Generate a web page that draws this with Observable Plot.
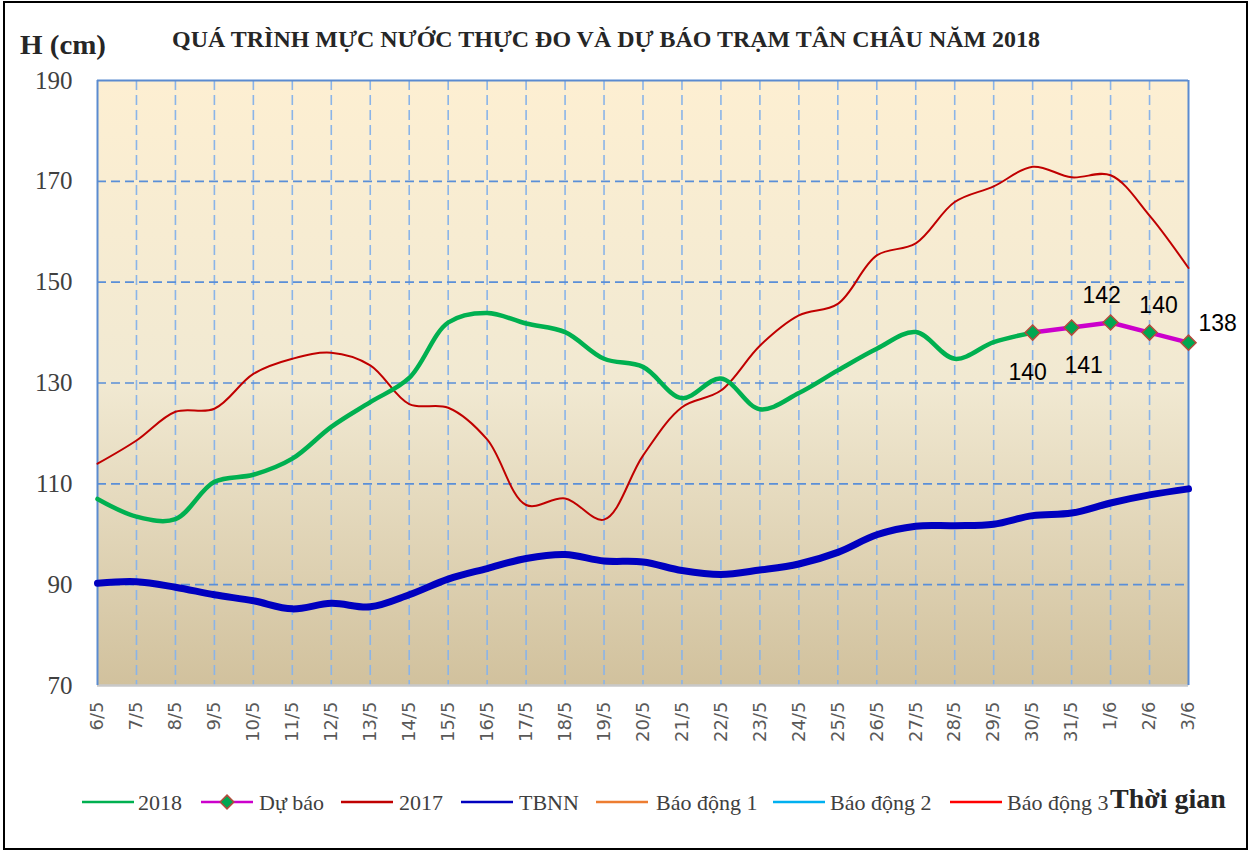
<!DOCTYPE html>
<html><head><meta charset="utf-8">
<script src="https://cdn.jsdelivr.net/npm/d3@7"></script>
<script src="https://cdn.jsdelivr.net/npm/@observablehq/plot@0.6"></script>
<style>
body{margin:0;background:#fff;}
#wrap{position:relative;width:1253px;height:852px;overflow:hidden;}
</style></head><body><div id="wrap"></div>
<script>
const dates = ["6/5","7/5","8/5","9/5","10/5","11/5","12/5","13/5","14/5","15/5","16/5","17/5","18/5","19/5","20/5","21/5","22/5","23/5","24/5","25/5","26/5","27/5","28/5","29/5","30/5","31/5","1/6","2/6","3/6"];
// measured 2018 (6/5 .. 30/5)
const h2018 = [107,103.5,103,110.4,111.8,115,121.3,126.2,131,142,143.9,141.8,140.1,134.8,133.2,127,130.9,124.8,128,132.5,136.8,140.1,134.8,138.1,140];
// forecast (30/5 .. 3/6)
const forecastDates = ["30/5","31/5","1/6","2/6","3/6"];
const forecast = [140,141,142,140,138];
const h2017 = [114,118.6,124.3,124.9,131.8,134.8,136,133.5,125.8,125.1,118.8,105.8,107.1,102.9,115.6,125.2,128.5,137.4,143.4,145.7,155.3,157.7,165.9,169,172.9,170.8,171.2,163.2,152.8];
const tbnn = [90.3,90.6,89.5,88,86.8,85.2,86.3,85.6,88,91.1,93.2,95.2,96,94.7,94.5,92.8,92,92.9,94.1,96.4,99.9,101.6,101.7,102,103.7,104.2,106.2,107.8,109];
const yTicks = [70,90,110,130,150,170,190];
const yGrid = [90,110,130,150,170];
const legendNames = ["2018","Dự báo","2017","TBNN","Báo động 1","Báo động 2","Báo động 3"];
const legendColors = ["#00B050","#CC00CC","#C00000","#0000BF","#ED7D31","#00B0F0","#FF0000"];
const titleText = "QUÁ TRÌNH MỰC NƯỚC THỰC ĐO VÀ DỰ BÁO TRẠM TÂN CHÂU NĂM 2018";

const idx = d => dates.indexOf(d);
const rows2018 = h2018.map((v,i)=>({x:i, v}));
const rowsF = forecast.map((v,i)=>({x:idx(forecastDates[i]), v, i}));
const rows2017 = h2017.map((v,i)=>({x:i, v}));
const rowsT = tbnn.map((v,i)=>({x:i, v}));
const xIdx = dates.map((d,i)=>i);

const lbl = (k, dx, dy, anchor) => Plot.text(rowsF.filter(r=>r.i===k), {x:"x", y:"v", text:d=>String(d.v), dx, dy, textAnchor:anchor||"middle", fontSize:23, fontFamily:"Liberation Sans, Arial, sans-serif", fill:"#000"});

const plot = Plot.plot({
  width:1253, height:852,
  marginLeft:97, marginRight:65, marginTop:80, marginBottom:167,
  x:{type:"linear", domain:[0, dates.length-1], label:null},
  y:{domain:[70,190], label:null},
  style:{background:"transparent", overflow:"visible"},
  marks:[
    Plot.frame({fill:"url(#bgGrad)", stroke:null}),
    Plot.ruleX(xIdx.slice(1,-1), {stroke:"#8AB4E8", strokeWidth:1.6, strokeDasharray:"10,5"}),
    Plot.ruleY(yGrid, {stroke:"#5A8FD8", strokeWidth:1.6, strokeDasharray:"9,5"}),
    Plot.ruleY([70], {stroke:"#C8C8C8", strokeWidth:2.5}),
    Plot.ruleY([190], {stroke:"#5B8BD0", strokeWidth:2}),
    Plot.ruleX([0, dates.length-1], {stroke:"#5B8BD0", strokeWidth:2}),
    Plot.axisY({ticks:yTicks, tickSize:0, tickPadding:25, fontSize:25, fontFamily:"Liberation Serif, Times New Roman, serif", fill:"#404040"}),
    Plot.axisX({ticks:xIdx, tickFormat:i=>dates[i], tickSize:0, tickPadding:16, tickRotate:-90, fontSize:18, fontFamily:"DejaVu Sans, sans-serif", fill:"#595959"}),
    Plot.line(rows2017, {x:"x", y:"v", stroke:"#C00000", strokeWidth:2, curve:"catmull-rom"}),
    Plot.line(rowsT, {x:"x", y:"v", stroke:"#0000BF", strokeWidth:7, curve:"catmull-rom"}),
    Plot.line(rows2018, {x:"x", y:"v", stroke:"#00B050", strokeWidth:4.5, curve:"catmull-rom"}),
    Plot.line(rowsF, {x:"x", y:"v", stroke:"#CC00CC", strokeWidth:4.5}),
    Plot.dot(rowsF, {x:"x", y:"v", symbol:"diamond2", r:6.8, fill:"#00A651", stroke:"#B54A3C", strokeWidth:1.5}),
    lbl(0, -5, 40),
    lbl(1, 12, 38),
    lbl(2, -9, -27),
    lbl(3, 9, -27),
    lbl(4, 10, -19, "start")
  ]
});

const svg = d3.select(plot);
svg.insert("defs", ":first-child").html(
  '<linearGradient id="bgGrad" x1="0" y1="0" x2="0" y2="1">' +
  '<stop offset="0" stop-color="#FDEFD2"/><stop offset="0.5" stop-color="#F1E9D2"/><stop offset="1" stop-color="#D1C19D"/>' +
  '</linearGradient>');

// outer frame
svg.append("rect").attr("x",4).attr("y",2).attr("width",1243).attr("height",847)
  .attr("fill","none").attr("stroke","#000").attr("stroke-width",2);

const serif = "Liberation Serif, Times New Roman, serif";
const over = svg.append("g").attr("text-anchor","start");
over.append("text").text("H (cm)").attr("x",20).attr("y",54)
  .attr("font-family",serif).attr("font-weight","bold").attr("font-size",28)
  .attr("textLength",86).attr("lengthAdjust","spacingAndGlyphs").attr("fill","#262626");
over.append("text").text(titleText).attr("x",172).attr("y",47)
  .attr("font-family",serif).attr("font-weight","bold").attr("font-size",24)
  .attr("textLength",868).attr("lengthAdjust","spacingAndGlyphs").attr("fill","#262626");

// legend
const lineX = [82,201,341,461,596,773,950];
const textX = [138,259,399,519,656,830,1007];
const lg = over.append("g").attr("font-family",serif).attr("font-size",22).attr("fill","#404040");
legendNames.forEach((n,i)=>{
  lg.append("line").attr("x1",lineX[i]).attr("x2",lineX[i]+52).attr("y1",802).attr("y2",802)
    .attr("stroke",legendColors[i]).attr("stroke-width",2.5);
  if(i===1){
    lg.append("path").attr("d", d3.symbol(d3.symbolDiamond2, 120)()).attr("transform",`translate(${lineX[i]+26},802)`)
      .attr("fill","#00A651").attr("stroke","#B54A3C").attr("stroke-width",1.5);
  }
  lg.append("text").text(n).attr("x",textX[i]).attr("y",810);
});
over.append("text").text("Thời gian").attr("x",1110).attr("y",808)
  .attr("font-family",serif).attr("font-weight","bold").attr("font-size",28).attr("fill","#262626");

document.getElementById("wrap").appendChild(plot);
</script></body></html>
